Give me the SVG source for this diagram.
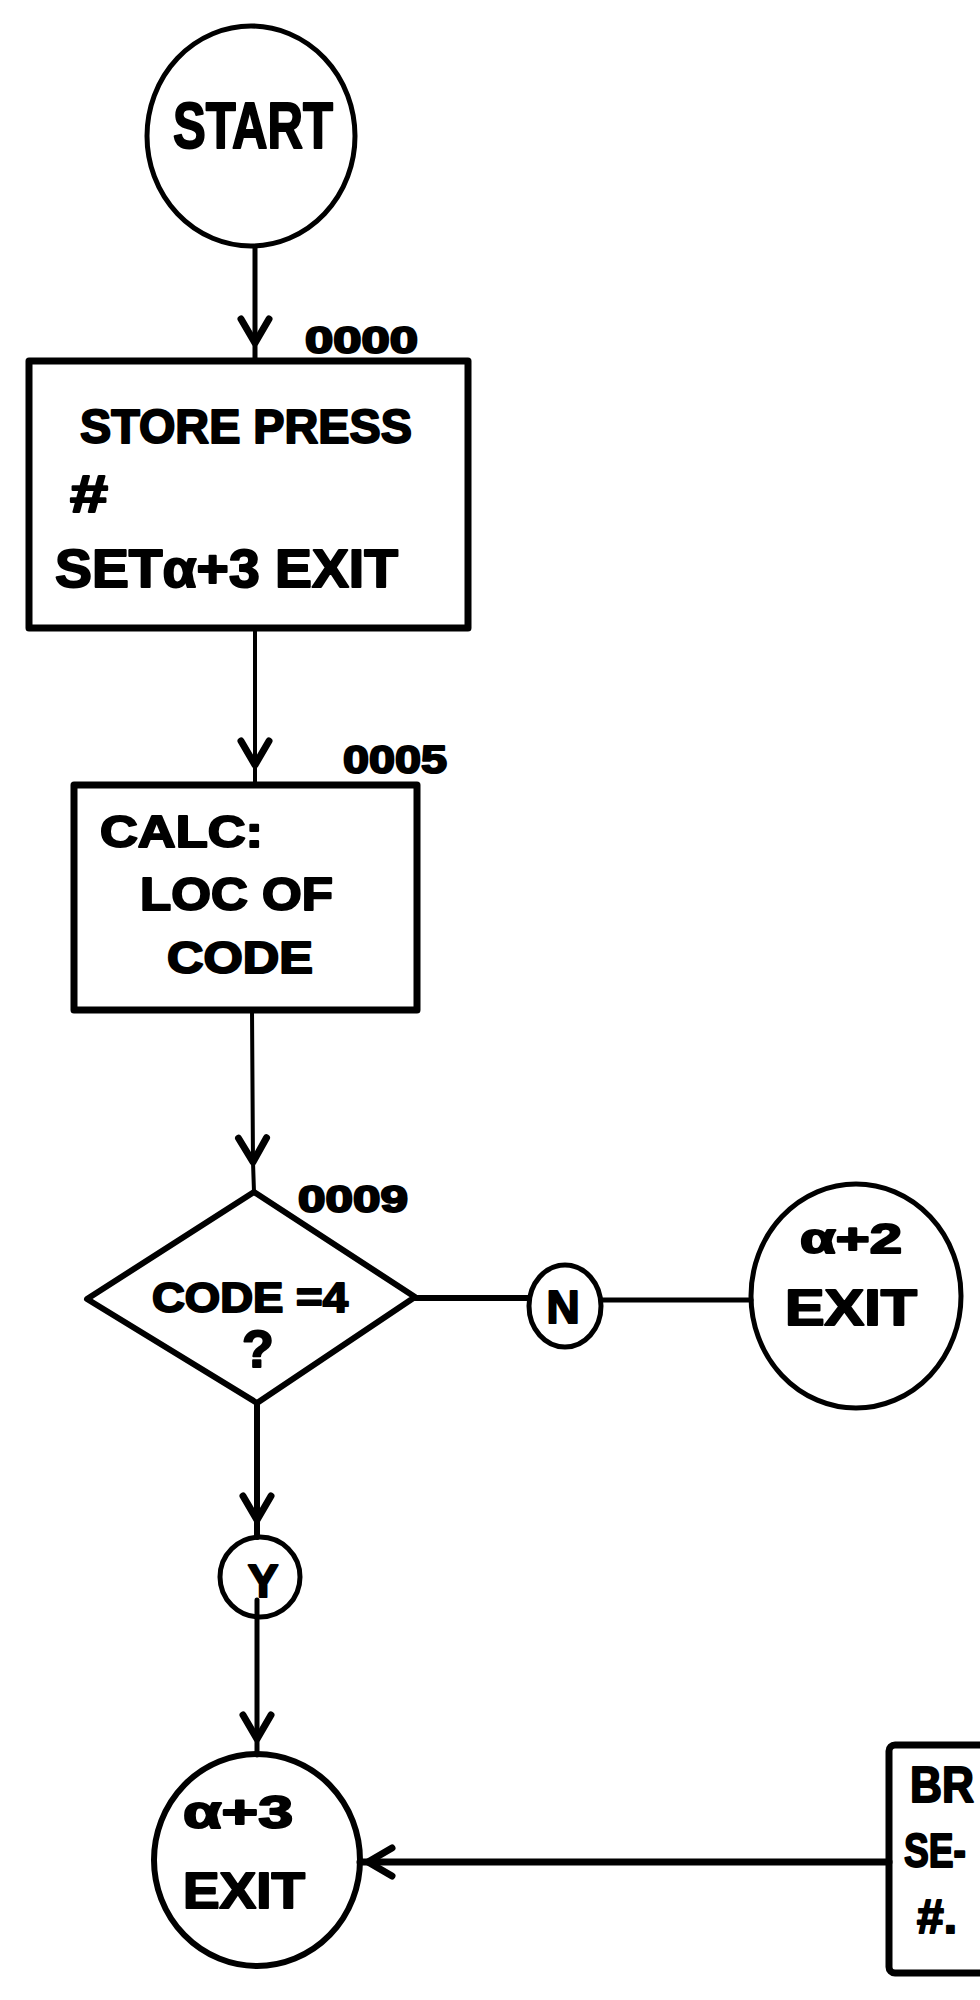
<svg xmlns="http://www.w3.org/2000/svg" width="980" height="2000" viewBox="0 0 980 2000">
  <defs>
    <style>
      .shape { fill: none; stroke: #000; stroke-linejoin: round; }
      .t { font-family: "Liberation Sans", "DejaVu Sans", sans-serif; font-weight: bold; fill: #000; stroke: #000; stroke-width: 2; stroke-linejoin: round; }
      .c { text-anchor: middle; }
      .conn { fill: none; stroke: #000; stroke-linecap: round; }
    </style>
    <marker id="vhead" markerUnits="userSpaceOnUse" markerWidth="60" markerHeight="60" viewBox="-30 -30 60 60" refX="0" refY="0" orient="auto" overflow="visible">
      <path d="M -24 -14 L 0 0 L -24 14" fill="none" stroke="#000" stroke-width="7" stroke-linecap="round" stroke-linejoin="round"/>
    </marker>
  </defs>
  <rect x="0" y="0" width="980" height="2000" fill="#fff"/>

  <g id="connectors">
    <path class="conn" d="M 255 247 L 255 343 L 255 361" stroke-width="5" marker-mid="url(#vhead)"/>
    <path class="conn" d="M 255 628 L 255 765 L 255 785" stroke-width="4" marker-mid="url(#vhead)"/>
    <path class="conn" d="M 252 1010 L 253 1162 L 254 1192" stroke-width="4" marker-mid="url(#vhead)"/>
    <path class="conn" d="M 257 1403 L 257 1520 L 257 1537" stroke-width="6" marker-mid="url(#vhead)"/>
    <path class="conn" d="M 257 1600 L 257 1739 L 257 1755" stroke-width="5" marker-mid="url(#vhead)"/>
    <path class="conn" d="M 415 1298 L 529 1298" stroke-width="6"/>
    <path class="conn" d="M 602 1300 L 751 1300" stroke-width="5"/>
    <path class="conn" d="M 889 1862 L 368 1862 L 360 1862" stroke-width="7" marker-mid="url(#vhead)"/>
  </g>

  <g id="start">
    <ellipse class="shape" cx="251" cy="136" rx="104" ry="110" stroke-width="5"/>
    <text class="t" x="173" y="148" font-size="64" textLength="160" lengthAdjust="spacingAndGlyphs">START</text>
  </g>

  <g id="store">
    <text class="t" x="305" y="353" font-size="36" textLength="113" lengthAdjust="spacingAndGlyphs">0000</text>
    <rect class="shape" x="29" y="361" width="439" height="267" stroke-width="7"/>
    <text class="t" x="80" y="443" font-size="48" textLength="332" lengthAdjust="spacingAndGlyphs">STORE PRESS</text>
    <text class="t" x="70" y="512" font-size="52" textLength="38" lengthAdjust="spacingAndGlyphs">#</text>
    <text class="t" x="55" y="587" font-size="54" textLength="343" lengthAdjust="spacingAndGlyphs">SETα+3 EXIT</text>
  </g>

  <g id="calc">
    <text class="t" x="343" y="773" font-size="38" textLength="104" lengthAdjust="spacingAndGlyphs">0005</text>
    <rect class="shape" x="74" y="785" width="343" height="225" stroke-width="7"/>
    <text class="t" x="100" y="847" font-size="44" textLength="163" lengthAdjust="spacingAndGlyphs">CALC:</text>
    <text class="t" x="140" y="910" font-size="46" textLength="193" lengthAdjust="spacingAndGlyphs">LOC OF</text>
    <text class="t" x="167" y="973" font-size="44" textLength="146" lengthAdjust="spacingAndGlyphs">CODE</text>
  </g>

  <g id="decision">
    <text class="t" x="298" y="1212" font-size="36" textLength="110" lengthAdjust="spacingAndGlyphs">0009</text>
    <polygon class="shape" points="254,1192 415,1297 257,1403 87,1299" stroke-width="6"/>
    <text class="t" x="152" y="1312" font-size="42" textLength="196" lengthAdjust="spacingAndGlyphs">CODE =4</text>
    <text class="t c" x="258" y="1367" font-size="52">?</text>
  </g>

  <g id="no-label">
    <ellipse class="shape" cx="565" cy="1306" rx="36" ry="41" stroke-width="5"/>
    <text class="t c" x="563" y="1323" font-size="46">N</text>
  </g>

  <g id="exit2">
    <ellipse class="shape" cx="856" cy="1296" rx="105" ry="112" stroke-width="5"/>
    <text class="t" x="800" y="1253" font-size="42" textLength="102" lengthAdjust="spacingAndGlyphs">α+2</text>
    <text class="t" x="785" y="1325" font-size="50" textLength="132" lengthAdjust="spacingAndGlyphs">EXIT</text>
  </g>

  <g id="yes-label">
    <circle class="shape" cx="260" cy="1577" r="40" stroke-width="5"/>
    <text class="t c" x="263" y="1597" font-size="46">Y</text>
  </g>

  <g id="exit3">
    <ellipse class="shape" cx="257" cy="1860" rx="103" ry="106" stroke-width="6"/>
    <text class="t" x="183" y="1828" font-size="46" textLength="110" lengthAdjust="spacingAndGlyphs">α+3</text>
    <text class="t" x="183" y="1908" font-size="50" textLength="122" lengthAdjust="spacingAndGlyphs">EXIT</text>
  </g>

  <g id="right-box">
    <rect class="shape" x="889" y="1745" width="140" height="228" rx="6" stroke-width="7"/>
    <text class="t" x="910" y="1802" font-size="50" textLength="64" lengthAdjust="spacingAndGlyphs">BR</text>
    <text class="t" x="904" y="1867" font-size="48" textLength="62" lengthAdjust="spacingAndGlyphs">SE-</text>
    <text class="t" x="917" y="1933" font-size="48">#.</text>
  </g>
</svg>
